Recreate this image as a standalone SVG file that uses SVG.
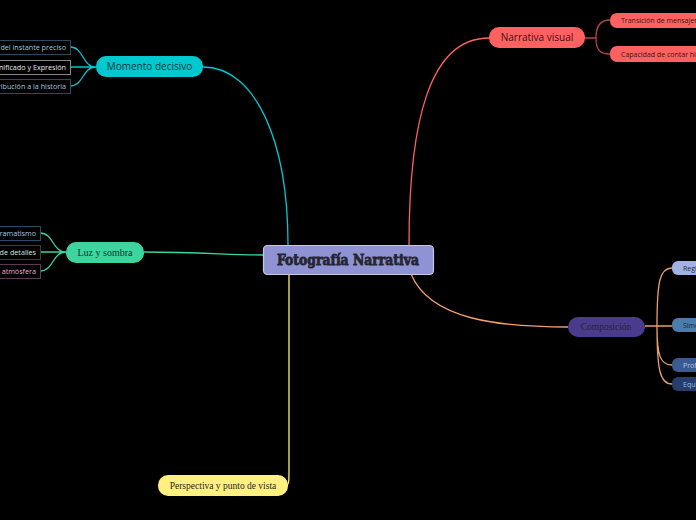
<svg xmlns="http://www.w3.org/2000/svg" width="696" height="520" viewBox="0 0 696 520">
<style>
.sans{font-family:"Open Sans","Noto Sans","DejaVu Sans",sans-serif}
.serif{font-family:"Liberation Serif","DejaVu Serif",serif}
.c{fill:none;stroke-width:1.3}
.sub{font-size:7.2px}
</style>
<rect width="696" height="520" fill="#000"/>
<g id="connectors">
<path class="c" stroke="#00c8cf" d="M203,67 C255,67 288,140 288,245"/>
<path class="c" stroke="#3ed4a0" d="M144,252 C200,252 230,255 263,255"/>
<path class="c" stroke="#ff6060" d="M409,245 C409,120 430,38 489,38"/>
<path class="c" stroke="#f4a070" d="M411,274 C430,320 500,327 568,327"/>
<path class="c" stroke="#fff070" d="M289,274 L289,470 C289,482 289,485 286,485"/>
<path class="c" stroke="#00c8cf" d="M96,67 C82,67 84,47 70,47 M96,67 L70,67 M96,67 C82,67 84,86 70,86"/>
<path class="c" stroke="#3ed4a0" d="M66,252 C52,252 54,233 40,233 M66,252 L40,252 M66,252 C52,252 54,271 40,271"/>
<path class="c" stroke="#b04545" d="M585,38 L596,38 C596,26 600,20 610,20 M596,38 C596,50 600,54 610,54"/>
<path class="c" stroke="#e8a068" d="M645,326 L672,326 M657,326 C657,280 660,268 672,268 M657,326 C657,355 660,365 672,365 M657,326 C657,370 660,384 672,384"/>
</g>
<g id="center">
<rect x="263.5" y="245.5" width="170" height="29" rx="4" fill="#8f93d4" stroke="#c8c8dc" stroke-width="1.2"/>
<text x="348" y="265" text-anchor="middle" font-family="'DejaVu Serif',serif" font-weight="bold" font-size="14" fill="#262630" stroke="#262630" stroke-width="0.8" textLength="142" lengthAdjust="spacingAndGlyphs">Fotografía Narrativa</text>
</g>
<g id="momento">
<rect x="96" y="56" width="107" height="21" rx="10" fill="#00c8cf"/>
<text class="sans" x="149.5" y="70" text-anchor="middle" font-size="10" fill="#12353a">Momento decisivo</text>
</g>
<g id="m1">
<rect x="-10" y="40.5" width="80.5" height="14" fill="#000" stroke="#2e4a5e"/>
<text class="sans sub" x="66" y="50" text-anchor="end" fill="#a6c4dc">del instante preciso</text>
</g>
<g id="m2">
<rect x="-10" y="60.5" width="80.5" height="14" fill="#000" stroke="#8a8a8a"/>
<text class="sans sub" x="66" y="70" text-anchor="end" fill="#e8e8e8">nificado y Expresión</text>
</g>
<g id="m3">
<rect x="-10" y="79.5" width="80.5" height="14" fill="#000" stroke="#2e4a5e"/>
<text class="sans sub" x="66" y="89" text-anchor="end" fill="#a6c4dc">ribución a la historia</text>
</g>
<g id="luz">
<rect x="66" y="242" width="78" height="21" rx="10" fill="#3ed4a0"/>
<text class="serif" x="105" y="256" text-anchor="middle" font-size="10" fill="#15352a">Luz y sombra</text>
</g>
<g id="l1">
<rect x="-10" y="226.5" width="50.5" height="14" fill="#000" stroke="#2c4a6c"/>
<text class="sans sub" x="36" y="236" text-anchor="end" fill="#a6c4e0">ramatismo</text>
</g>
<g id="l2">
<rect x="-10" y="245.5" width="50.5" height="14" fill="#000" stroke="#1e4e3e"/>
<text class="sans sub" x="36" y="255" text-anchor="end" fill="#d4e4e0">de detalles</text>
</g>
<g id="l3">
<rect x="-10" y="264.5" width="50.5" height="14" fill="#000" stroke="#5a3a5a"/>
<text class="sans sub" x="36" y="274" text-anchor="end" fill="#e4a8d8">atmósfera</text>
</g>
<g id="narrativa">
<rect x="489" y="27" width="96" height="21" rx="10" fill="#ff6060"/>
<text class="sans" x="537" y="41" text-anchor="middle" font-size="10" fill="#3a1515">Narrativa visual</text>
</g>
<g id="n1">
<rect x="610" y="13" width="100" height="15" rx="7" fill="#ff6060"/>
<text class="sans" x="621" y="23" font-size="7" fill="#3a1515">Transición de mensajes</text>
</g>
<g id="n2">
<rect x="610" y="46" width="100" height="16" rx="7" fill="#ff6060"/>
<text class="sans" x="621" y="57" font-size="7" fill="#3a1515">Capacidad de contar historias</text>
</g>
<g id="composicion">
<rect x="568" y="317" width="77" height="20" rx="10" fill="#4a3b8c"/>
<text class="serif" x="606" y="330" text-anchor="middle" font-size="9.5" fill="#26223e">Composición</text>
</g>
<g id="c1">
<rect x="672" y="261" width="40" height="14" rx="6" fill="#a2b2e4"/>
<text class="sans" x="683" y="271" font-size="7" fill="#1e2a48">Regla</text>
</g>
<g id="c2">
<rect x="672" y="318" width="40" height="14" rx="6" fill="#4a7cac"/>
<text class="sans" x="683" y="328" font-size="7" fill="#16283c">Simetría</text>
</g>
<g id="c3">
<rect x="672" y="358" width="40" height="14" rx="6" fill="#3a5a92"/>
<text class="sans" x="683" y="368" font-size="7" fill="#b0c4e8">Profundidad</text>
</g>
<g id="c4">
<rect x="672" y="377" width="40" height="14" rx="6" fill="#253e6c"/>
<text class="sans" x="683" y="387" font-size="7" fill="#a0b8e0">Equilibrio</text>
</g>
<g id="perspectiva">
<rect x="158" y="475" width="130" height="21" rx="10" fill="#fff080"/>
<text class="serif" x="223" y="489" text-anchor="middle" font-size="9.5" fill="#2a2a1a">Perspectiva y punto de vista</text>
</g>
</svg>
